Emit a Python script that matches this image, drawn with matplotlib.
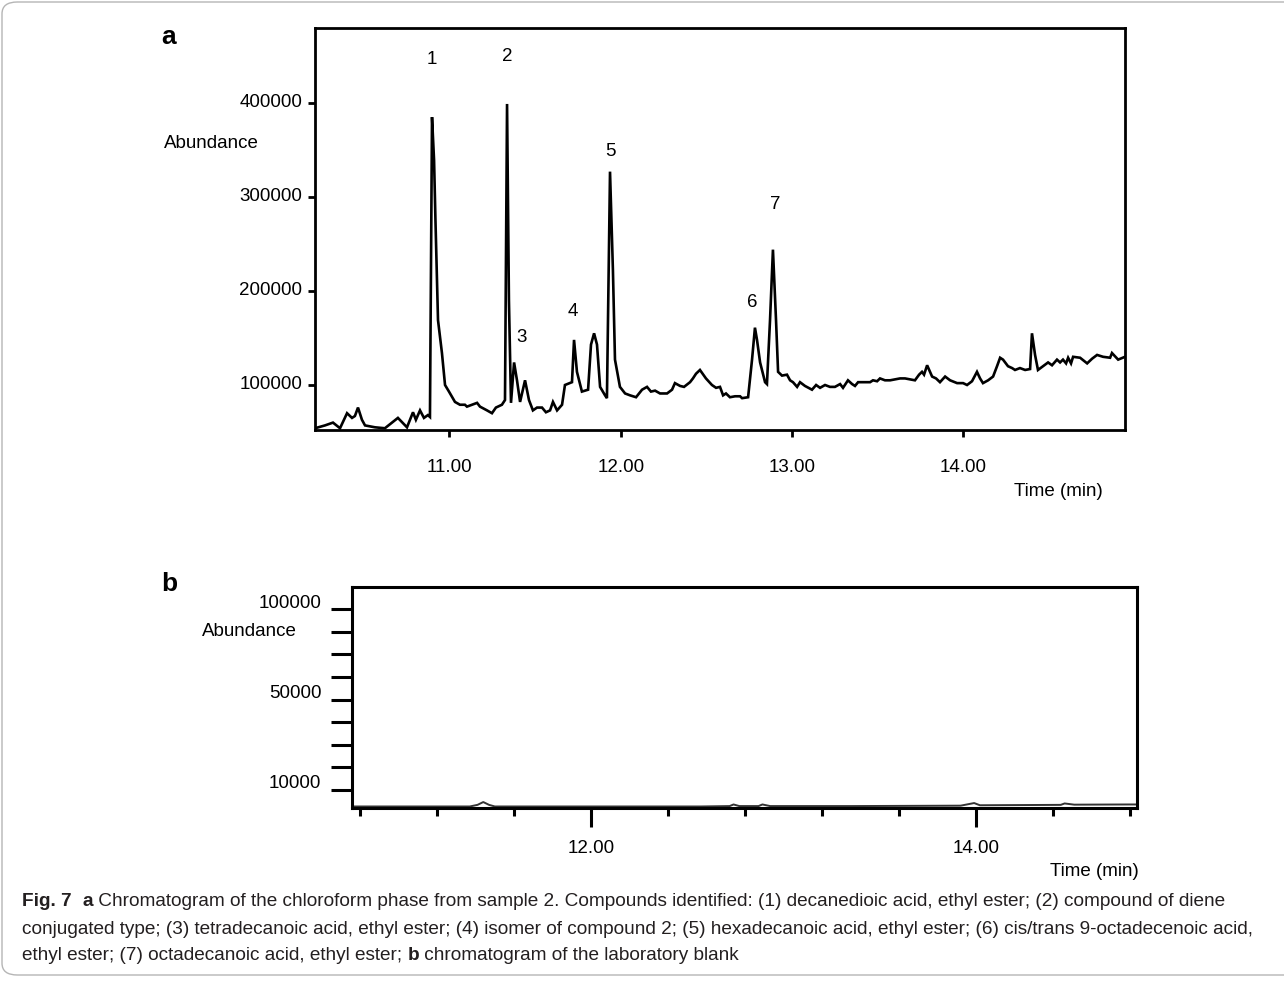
import numpy as np
import matplotlib
matplotlib.use("Agg")
import matplotlib.pyplot as plt
import matplotlib.transforms as mtransforms
from matplotlib.patches import FancyBboxPatch

plt.rcParams['font.family'] = ['Liberation Sans', 'DejaVu Sans']

# Panel a: chloroform phase of sample 2 (time in min, abundance)
time_a = [10.215, 10.273, 10.320, 10.361, 10.402, 10.431, 10.448, 10.466, 10.489, 10.507,
          10.565, 10.623, 10.699, 10.752, 10.787, 10.804, 10.828, 10.851, 10.874, 10.886,
          10.898, 10.910, 10.918, 10.933, 10.956, 10.974, 10.997, 11.032, 11.061, 11.090, 11.102,
          11.131, 11.161, 11.178, 11.219, 11.248, 11.271, 11.306, 11.324, 11.336, 11.347,
          11.359, 11.377, 11.394, 11.412, 11.441, 11.464, 11.487, 11.511, 11.540, 11.563,
          11.587, 11.604, 11.628, 11.657, 11.674, 11.715, 11.727, 11.744, 11.773, 11.809,
          11.826, 11.844, 11.861, 11.879, 11.908, 11.919, 11.937, 11.954, 11.966, 11.995,
          12.025, 12.054, 12.089, 12.124, 12.153, 12.176, 12.200, 12.229, 12.270, 12.299,
          12.316, 12.346, 12.369, 12.404, 12.421, 12.439, 12.462, 12.497, 12.532, 12.556,
          12.579, 12.597, 12.614, 12.637, 12.667, 12.696, 12.708, 12.743, 12.766, 12.783,
          12.795, 12.813, 12.842, 12.853, 12.871, 12.888, 12.906, 12.918, 12.941, 12.970,
          12.988, 13.005, 13.029, 13.046, 13.075, 13.116, 13.140, 13.163, 13.192, 13.221,
          13.250, 13.280, 13.297, 13.326, 13.350, 13.367, 13.385, 13.414, 13.455, 13.472,
          13.496, 13.513, 13.542, 13.572, 13.601, 13.630, 13.659, 13.688, 13.717, 13.741,
          13.758, 13.770, 13.788, 13.805, 13.817, 13.840, 13.863, 13.893, 13.922, 13.963,
          13.998, 14.021, 14.050, 14.079, 14.097, 14.114, 14.144, 14.173, 14.196, 14.214,
          14.231, 14.260, 14.284, 14.301, 14.330, 14.360, 14.389, 14.400, 14.418, 14.435,
          14.465, 14.494, 14.517, 14.546, 14.564, 14.581, 14.599, 14.611, 14.628, 14.640,
          14.681, 14.722, 14.751, 14.780, 14.815, 14.856, 14.867, 14.903, 14.943]
abund_a = [54000, 57000, 60000, 54000, 70000, 65000, 67000, 76000, 63000, 57000,
           55000, 54000, 65000, 55000, 71000, 63000, 73000, 65000, 68000, 66000,
           385000, 339000, 276000, 169000, 134000, 100000, 93000, 82000, 79000, 79000, 77000,
           79000, 81000, 77000, 73000, 70000, 76000, 79000, 84000, 399000, 190000,
           81000, 124000, 105000, 82000, 105000, 84000, 73000, 76000, 76000, 71000,
           73000, 82000, 73000, 79000, 100000, 103000, 148000, 114000, 93000, 95000,
           143000, 155000, 143000, 98000, 89000, 86000, 327000, 222000, 127000, 98000,
           91000, 89000, 87000, 95000, 98000, 93000, 94000, 91000, 91000, 95000,
           102000, 99000, 98000, 103000, 107000, 112000, 116000, 107000, 100000, 97000,
           98000, 89000, 91000, 87000, 88000, 88000, 86000, 87000, 127000, 161000,
           148000, 124000, 103000, 101000, 169000, 244000, 169000, 114000, 110000, 111000,
           105000, 103000, 98000, 103000, 99000, 95000, 100000, 97000, 100000, 98000,
           98000, 101000, 97000, 105000, 101000, 99000, 103000, 103000, 103000, 105000,
           104000, 107000, 105000, 105000, 106000, 107000, 107000, 106000, 105000, 111000,
           114000, 111000, 121000, 114000, 109000, 107000, 103000, 109000, 105000, 102000,
           102000, 100000, 104000, 114000, 107000, 102000, 105000, 109000, 120000, 129000,
           127000, 120000, 118000, 116000, 118000, 116000, 117000, 155000, 132000, 116000,
           120000, 124000, 121000, 127000, 124000, 127000, 123000, 129000, 123000, 130000,
           129000, 123000, 128000, 132000, 130000, 129000, 134000, 127000, 130000]

# peak numbers and where their labels sit
peak_ids = ['1', '2', '3', '4', '5', '6', '7']
peak_label_t = [10.898, 11.340, 11.423, 11.720, 11.937, 12.766, 12.900]
peak_label_y = [446000, 449000, 151000, 178000, 348000, 188000, 292000]

# Panel b: laboratory blank
time_b = [10.76, 11.37, 11.41, 11.44, 11.47, 11.50, 12.57, 12.72, 12.74, 12.77, 12.87,
          12.89, 12.93, 13.35, 13.92, 13.99, 14.02, 14.44, 14.46, 14.51, 14.80, 14.83]
abund_b = [1800, 1800, 2600, 4000, 2600, 1800, 1800, 2000, 2800, 2000, 2000,
           2800, 2000, 2000, 2200, 3500, 2400, 2600, 3300, 2700, 2800, 2800]

yticks_a = [100000, 200000, 300000, 400000]
xticks_a = [11, 12, 13, 14]
yticks_b = list(np.linspace(10000, 100000, 9))
ytick_labels_b = ['10000', '', '', '', '50000', '', '', '', '100000']
xticks_b = [12, 14]
xminor_b = [10.8, 11.2, 11.6, 12.4, 12.8, 13.2, 13.6, 14.4, 14.8]

W, H = 1284, 981
fig = plt.figure(figsize=(W / 100, H / 100), dpi=100)

def fx(px):
    return px / W

def fy(py):
    return 1 - py / H

# outer frame of the figure card
frame = FancyBboxPatch((fx(2), fy(975)), fx(1320) - fx(2), fy(2) - fy(975),
                       boxstyle="round,pad=0,rounding_size=0.012",
                       transform=fig.transFigure, fill=False, ec='#b5b5b5', lw=1.0)
fig.patches.append(frame)

lw = 1.9
fs = 13.5

# ---- panel a ----
ax = fig.add_axes([fx(315), fy(430), fx(1125) - fx(315), fy(28) - fy(430)])
ax.plot(time_a, abund_a, color='black', lw=lw, solid_joinstyle='miter')
ax.set_xlim(10.215, 14.943)
ax.set_ylim(52130, 479800)
ax.set_yticks(yticks_a)
ax.set_yticklabels([str(v) for v in yticks_a])
ax.set_xticks(xticks_a)
ax.set_xticklabels(['%.2f' % v for v in xticks_a])
ax.tick_params(axis='both', direction='out', length=5, width=2, labelsize=fs)
ax.tick_params(axis='x', pad=16)
ax.tick_params(axis='y', pad=4)
for s in ax.spines.values():
    s.set_linewidth(2.0)
off = mtransforms.ScaledTranslation(0, 3 / 100, fig.dpi_scale_trans)
for lab in ax.get_yticklabels():
    lab.set_transform(lab.get_transform() + off)
for pid, t, y in zip(peak_ids, peak_label_t, peak_label_y):
    ax.text(t, y, pid, ha='center', va='center', fontsize=fs)

fig.text(fx(164), fy(143), 'Abundance', ha='left', va='center', fontsize=fs)
fig.text(fx(1103), fy(492), 'Time (min)', ha='right', va='center', fontsize=fs)
fig.text(fx(161), fy(37), 'a', ha='left', va='center', fontsize=19, fontweight='bold')

# ---- panel b ----
bx = fig.add_axes([fx(352), fy(808), fx(1137) - fx(352), fy(587) - fy(808)])
bx.plot(time_b, abund_b, color='#333333', lw=1.4)
bx.set_xlim(10.758, 14.836)
bx.set_ylim(1040, 110950)
bx.set_yticks(yticks_b)
bx.set_yticklabels(ytick_labels_b)
bx.set_xticks(xticks_b)
bx.set_xticklabels(['%.2f' % v for v in xticks_b])
bx.set_xticks(xminor_b, minor=True)
bx.tick_params(axis='y', direction='out', length=15, width=2.2, labelsize=fs, pad=7)
bx.tick_params(axis='x', which='major', direction='out', length=14, width=2.2,
               labelsize=fs, pad=9)
bx.tick_params(axis='x', which='minor', direction='out', length=6, width=2.2)
for s in bx.spines.values():
    s.set_linewidth(2.2)
off_b = mtransforms.ScaledTranslation(0, 8 / 100, fig.dpi_scale_trans)
for lab in bx.get_yticklabels():
    lab.set_transform(lab.get_transform() + off_b)

fig.text(fx(202), fy(632), 'Abundance', ha='left', va='center', fontsize=fs)
fig.text(fx(1139), fy(872), 'Time (min)', ha='right', va='center', fontsize=fs)
fig.text(fx(161), fy(584), 'b', ha='left', va='center', fontsize=19, fontweight='bold')

# ---- caption ----
cap_font = ['Liberation Sans Narrow', 'Liberation Sans', 'DejaVu Sans']
caption = [
    [('Fig. 7', 'bold'), ('  ', 'normal'), ('a', 'bold'),
     (' Chromatogram of the chloroform phase from sample 2. Compounds identified: (1) decanedioic '
      'acid, ethyl ester; (2) compound of diene', 'normal')],
    [('conjugated type; (3) tetradecanoic acid, ethyl ester; (4) isomer of compound 2; (5) hexadecanoic '
      'acid, ethyl ester; (6) cis/trans 9-octadecenoic acid,', 'normal')],
    [('ethyl ester; (7) octadecanoic acid, ethyl ester; ', 'normal'), ('b', 'bold'),
     (' chromatogram of the laboratory blank', 'normal')],
]
cap_y = [902, 929, 955]

renderer = fig.canvas.get_renderer()

def draw_line(runs, py, size):
    x = 22
    items = []
    for txt, wt in runs:
        t = fig.text(fx(x), fy(py), txt, ha='left', va='center', fontsize=size,
                     fontweight=wt, family=cap_font, color='#231f20')
        x += t.get_window_extent(renderer).width
        items.append(t)
    return x, items

# fit the two long caption lines to the width they take in the reference
sizes = []
for runs, right in zip(caption[:2], [1262, 1264]):
    end, items = draw_line(runs, 0, 12)
    for t in items:
        t.remove()
    sizes.append(12 * (right - 22) / (end - 22))
cap_size = min(sizes)
for runs, py in zip(caption, cap_y):
    draw_line(runs, py, cap_size)

fig.savefig('out.png', dpi=100)
